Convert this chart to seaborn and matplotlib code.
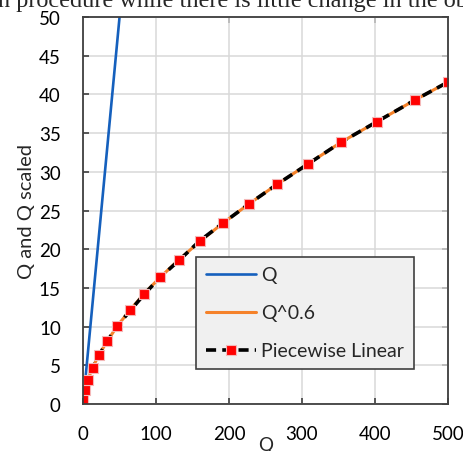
import matplotlib
matplotlib.use("Agg")
import pandas as pd
import seaborn as sns
from matplotlib import pyplot as plt

# Q line (clipped by the y limit)
q_x = [0, 500]
q_y = [0, 500]

# Q^0.6 curve, read at the marker positions
pow_x = [0, 0.5, 2.7, 6.6, 13, 22, 33, 47, 65, 84, 106, 132, 160, 192, 228,
         266, 308, 353, 403, 455, 500]
pow_y = [0, 0.65, 1.8, 3.1, 4.7, 6.4, 8.1, 10.1, 12.2, 14.3, 16.4, 18.7,
         21.0, 23.4, 25.9, 28.4, 31.0, 33.8, 36.5, 39.3, 41.6]

# Piecewise linear breakpoints (red squares)
pw_x = [0, 0.5, 2.7, 6.6, 13, 22, 33, 47, 65, 84, 106, 132, 160, 192, 228,
        266, 308, 353, 403, 455, 500]
pw_y = [0, 0.65, 1.8, 3.1, 4.7, 6.3, 8.1, 10.1, 12.1, 14.2, 16.4, 18.6,
        21.1, 23.4, 25.9, 28.4, 31.0, 33.8, 36.5, 39.3, 41.6]

x_ticks = [0, 100, 200, 300, 400, 500]
y_ticks = [0, 5, 10, 15, 20, 25, 30, 35, 40, 45, 50]

sns.set_theme(style="whitegrid")
plt.rcParams["font.family"] = ["Lato", "DejaVu Sans"]

fig = plt.figure(figsize=(4.64, 4.52), dpi=100)
ax = fig.add_axes([0.179, 0.104, 0.7865, 0.856])

sns.lineplot(x=q_x, y=q_y, ax=ax, color="#1560bd", linewidth=1.9,
             label="Q", sort=False)
sns.lineplot(x=pow_x, y=pow_y, ax=ax, color="#f5822a", linewidth=2.2,
             label="Q^0.6", sort=False)
sns.lineplot(x=pw_x, y=pw_y, ax=ax, color="black", linewidth=2.6,
             linestyle=(0, (2.8, 1.7)), marker="s", markersize=7.5,
             markerfacecolor="#ff0000", markeredgecolor="#f4b8b8",
             markeredgewidth=0.8, label="Piecewise Linear", sort=False)

ax.set_xlim(0, 500)
ax.set_ylim(0, 50)
ax.set_xticks(x_ticks)
ax.set_yticks(y_ticks)
ax.grid(True, color="#d9d9d9", linewidth=1.1)
ax.tick_params(axis="both", direction="in", length=4, width=1.2,
               color="#404040", labelsize=13.5, labelcolor="black", pad=16)
ax.tick_params(axis="x", bottom=True, pad=15)
ax.tick_params(axis="y", left=True)
for s in ax.spines.values():
    s.set_color("#404040")
    s.set_linewidth(1.3)
    s.set_visible(True)

top = ax.secondary_xaxis("top")
top.set_xticks([200, 400])
top.tick_params(direction="in", length=4, width=1.2, color="#404040",
                labeltop=False)
right = ax.secondary_yaxis("right")
right.set_yticks(y_ticks)
right.tick_params(direction="in", length=4, width=1.2, color="#404040",
                  labelright=False)

ax.set_xlabel("Q", fontsize=13.5, labelpad=-4)
ax.set_ylabel("Q and Q scaled", fontsize=14.5, labelpad=3)

leg = ax.legend(loc="lower left", bbox_to_anchor=(0.31, 0.09), fontsize=14,
                handlelength=2.6, frameon=True, fancybox=False,
                facecolor="#f0f0f0", edgecolor="#404040", framealpha=1,
                borderpad=0.5, labelspacing=1.08, handletextpad=0.25,
                borderaxespad=0)
leg.get_frame().set_linewidth(1.2)

fig.text(-0.004, 1 - 7 / 452, "n procedure while there is little change in the ob",
         family=["Liberation Serif"], fontsize=17.5, va="baseline", ha="left")

fig.savefig("out.png", dpi=100)
